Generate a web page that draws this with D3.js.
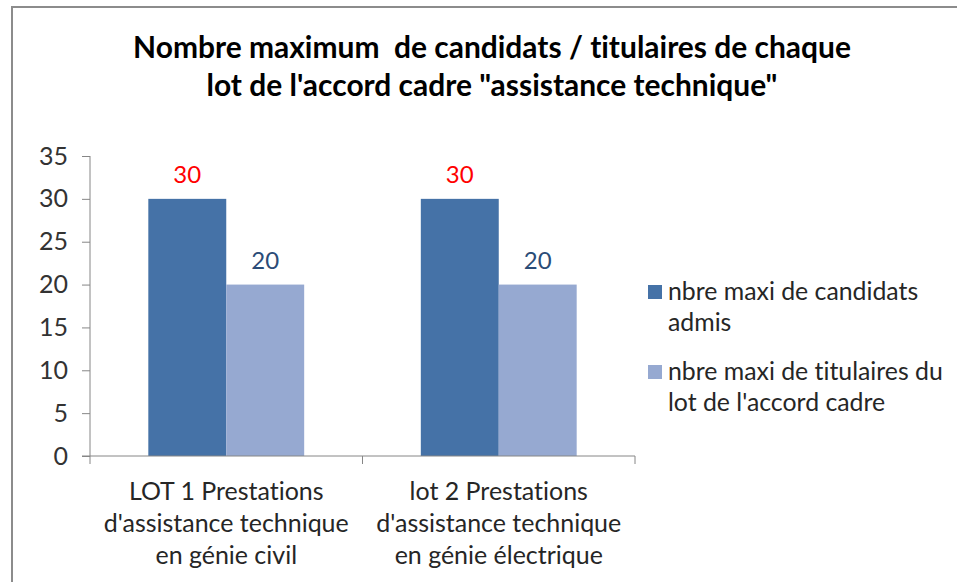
<!DOCTYPE html>
<html>
<head>
<meta charset="utf-8">
<script src="https://cdn.jsdelivr.net/npm/d3@7"></script>
<style>
  body { margin: 0; background: #fff; }
  svg { display: block; font-family: Lato, "Open Sans", sans-serif; }
  svg text { font-variant-ligatures: none; font-feature-settings: "liga" 0; }
</style>
</head>
<body>
<div id="chart"></div>
<script>
// chart data
var titleLines = ["Nombre maximum\u00a0\u00a0de candidats / titulaires de chaque", "lot de l'accord cadre \"assistance technique\""];
var categories = ["lot1", "lot2"];
var categoryLines = [
  ["LOT 1 Prestations", "d'assistance technique", "en génie civil"],
  ["lot 2 Prestations", "d'assistance technique", "en génie électrique"]
];
var seriesNames = ["candidats", "titulaires"];
var legendLines = [
  ["nbre maxi de candidats", "admis"],
  ["nbre maxi de titulaires du", "lot de l'accord cadre"]
];
var candidats = [30, 30];
var titulaires = [20, 20];
var yTicks = [0, 5, 10, 15, 20, 25, 30, 35];

var colors = { candidats: "#4572a7", titulaires: "#96a9d1" };
var labelColors = { candidats: "#ff0000", titulaires: "#2b4c77" };

var W = 957, H = 582;
var svg = d3.select("#chart").append("svg").attr("width", W).attr("height", H);

// chart frame (only top and left edges are visible in the picture)
svg.append("rect")
  .attr("x", 12).attr("y", 7)
  .attr("width", W + 20).attr("height", H + 20)
  .attr("fill", "#fff").attr("stroke", "#8c8c8c").attr("stroke-width", 2);

//
// scale a group of texts so that one reference string gets a given width
//
function fit(sel, refNode, target) {
  var size = parseFloat(d3.select(refNode).attr("font-size"));
  var w = refNode.getComputedTextLength();
  sel.attr("font-size", size * target / w);
}

// title
var title = svg.append("g").selectAll("text")
  .data(titleLines)
  .enter().append("text")
  .attr("x", 492)
  .attr("y", function (d, i) { return 58 + i * 38; })
  .attr("text-anchor", "middle")
  .attr("font-weight", "bold")
  .attr("font-size", 26)
  .attr("fill", "#000")
  .text(function (d) { return d; });
fit(title, title.nodes()[0], 718);

var y = d3.scaleLinear().domain([0, 35]).range([456, 156]);
var x = d3.scaleBand().domain(categories).range([90, 635]).padding(0);
var bw = x.bandwidth();
var x1 = d3.scaleBand().domain(seriesNames).range([bw * 0.214, bw * 0.786]);

var rows = categories.map(function (c, i) {
  return { cat: c, candidats: candidats[i], titulaires: titulaires[i] };
});

// y axis
var yAxis = svg.append("g")
  .attr("transform", "translate(90,0)")
  .call(d3.axisLeft(y).tickValues(yTicks).tickSize(8).tickPadding(14).tickSizeOuter(0));
yAxis.select(".domain").attr("stroke", "#868686").attr("d", "M0,156V464");
yAxis.selectAll(".tick line").attr("stroke", "#868686");
yAxis.selectAll(".tick text")
  .attr("font-size", 25)
  .attr("fill", "#333")
  .attr("font-family", "Lato, sans-serif");

// bars
var groups = svg.append("g").selectAll("g")
  .data(rows)
  .enter().append("g")
  .attr("transform", function (d) { return "translate(" + x(d.cat) + ",0)"; });

groups.selectAll("rect")
  .data(function (d) { return seriesNames.map(function (s) { return { key: s, value: d[s] }; }); })
  .enter().append("rect")
  .attr("x", function (d) { return x1(d.key); })
  .attr("width", x1.bandwidth())
  .attr("y", function (d) { return y(d.value); })
  .attr("height", function (d) { return y(0) - y(d.value); })
  .attr("fill", function (d) { return colors[d.key]; });

// data labels
groups.selectAll("text")
  .data(function (d) { return seriesNames.map(function (s) { return { key: s, value: d[s] }; }); })
  .enter().append("text")
  .attr("x", function (d) { return x1(d.key) + x1.bandwidth() / 2; })
  .attr("y", function (d) { return y(d.value) - 16; })
  .attr("text-anchor", "middle")
  .attr("font-size", 24)
  .attr("fill", function (d) { return labelColors[d.key]; })
  .text(function (d) { return d.value; });

// x axis: line plus ticks on the category boundaries
var xAxis = svg.append("g");
xAxis.append("line")
  .attr("x1", 82).attr("x2", x.range()[1])
  .attr("y1", y(0)).attr("y2", y(0))
  .attr("stroke", "#868686");
var bounds = categories.map(function (c) { return x(c) + bw; });
xAxis.selectAll(".bt")
  .data(bounds)
  .enter().append("line")
  .attr("class", "bt")
  .attr("x1", function (d) { return d; }).attr("x2", function (d) { return d; })
  .attr("y1", y(0)).attr("y2", y(0) + 8)
  .attr("stroke", "#868686");

// category labels
var catText = svg.append("g").selectAll("text")
  .data(categories)
  .enter().append("text")
  .attr("text-anchor", "middle")
  .attr("font-size", 22)
  .attr("fill", "#262626");
catText.selectAll("tspan")
  .data(function (d, i) { return categoryLines[i].map(function (l) { return { line: l, cx: x(d) + bw / 2 }; }); })
  .enter().append("tspan")
  .attr("x", function (d) { return d.cx; })
  .attr("y", function (d, i) { return 500 + i * 32; })
  .text(function (d) { return d.line; });
var refCat = catText.nodes()[0];
var refSpan = d3.select(refCat).selectAll("tspan").nodes()[1];
var cs = 22 * 245 / refSpan.getComputedTextLength();
catText.attr("font-size", cs);

// legend
var legend = svg.append("g").selectAll("g")
  .data(seriesNames)
  .enter().append("g")
  .attr("transform", function (d, i) { return "translate(648," + (285 + i * 80) + ")"; });
legend.append("rect")
  .attr("width", 14).attr("height", 14)
  .attr("fill", function (d) { return colors[d]; });
var legText = legend.append("text")
  .attr("font-size", 22)
  .attr("fill", "#262626");
legText.selectAll("tspan")
  .data(function (d, i) { return legendLines[i]; })
  .enter().append("tspan")
  .attr("x", 20)
  .attr("y", function (d, i) { return 15 + i * 31; })
  .text(function (d) { return d; });
var refLeg = d3.select(legText.nodes()[1]).select("tspan").node();
var ls = 22 * 275 / refLeg.getComputedTextLength();
legText.attr("font-size", ls);
</script>
</body>
</html>
